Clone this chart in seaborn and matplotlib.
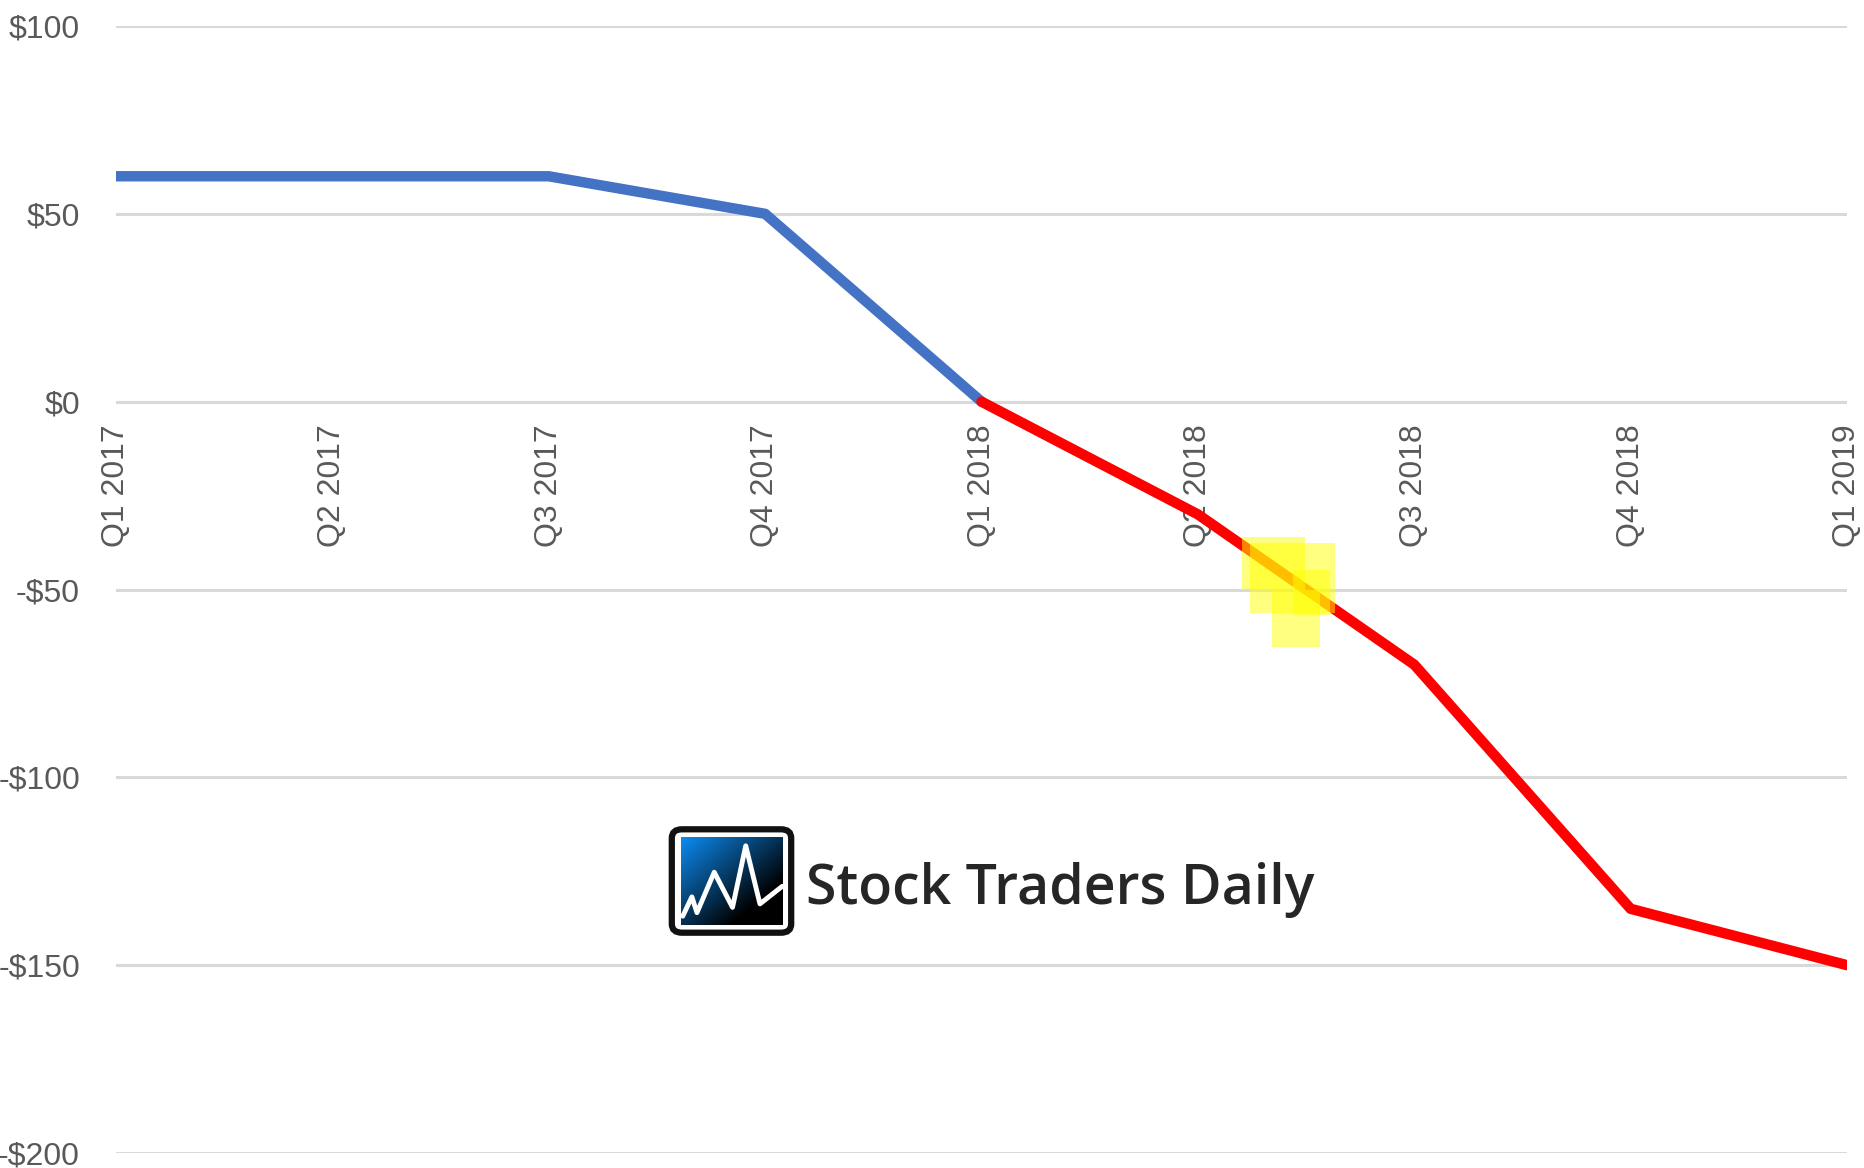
import numpy as np
import pandas as pd
import matplotlib
matplotlib.use("Agg")
import matplotlib.pyplot as plt
import seaborn as sns
from matplotlib.patches import FancyBboxPatch, Rectangle
from matplotlib.ticker import FuncFormatter

# ------ data ------
quarters = ["Q1 2017", "Q2 2017", "Q3 2017", "Q4 2017", "Q1 2018",
            "Q2 2018", "Q3 2018", "Q4 2018", "Q1 2019"]
values = [60, 60, 60, 50, 0, -30, -70, -135, -150]
split_idx = 4  # line turns red from Q1 2018 onward
y_ticks = [100, 50, 0, -50, -100, -150, -200]

W, H = 1864, 1168
sns.set_theme(style="white")
plt.rcParams["font.family"] = ["Liberation Sans", "DejaVu Sans"]

fig = plt.figure(figsize=(W / 100, H / 100), dpi=100)


def px_box(x0, y0, x1, y1):
    """pixel box (top-left origin) -> figure fraction rect"""
    return [x0 / W, 1 - y1 / H, (x1 - x0) / W, (y1 - y0) / H]


ax = fig.add_axes(px_box(116, 26, 1847, 1153))

# ------ build long table: blue segment + red segment ------
idx = list(range(len(quarters)))
df = pd.concat([
    pd.DataFrame({"x": idx[:split_idx + 1], "value": values[:split_idx + 1],
                  "segment": "up"}),
    pd.DataFrame({"x": idx[split_idx:], "value": values[split_idx:],
                  "segment": "down"}),
])

sns.lineplot(data=df, x="x", y="value", hue="segment",
             palette={"up": "#4472C4", "down": "#FF0000"},
             linewidth=7.5, legend=False, ax=ax, zorder=3)

# axis crosses at $0 (set before tick labels: set_position resets ticks)
for s in ax.spines.values():
    s.set_visible(False)
ax.spines["bottom"].set_position(("data", 0))

ax.set_xlim(0, len(quarters) - 1)
ax.set_ylim(min(y_ticks), max(y_ticks))
ax.set_yticks(y_ticks)
ax.yaxis.set_major_formatter(FuncFormatter(
    lambda v, _: f"${int(v)}" if v >= 0 else f"-${int(abs(v))}"))
ax.set_xticks(idx)
ax.set_xticklabels(quarters)
ax.set_xlabel("")
ax.set_ylabel("")

for y in y_ticks:
    ax.axhline(y, color="#D9D9D9", linewidth=2.2, zorder=1)

ax.tick_params(axis="both", length=0, labelsize=23, labelcolor="#595959")
ax.tick_params(axis="y", pad=26)
ax.tick_params(axis="x", pad=16, labelrotation=90)

# ------ yellow highlighter marks ------
for (x0, y0, x1, y1) in [(1242, 537, 1305, 590), (1250, 543, 1335, 613),
                         (1272, 590, 1320, 647), (1293, 570, 1330, 615)]:
    fig.patches.append(Rectangle((x0 / W, 1 - y1 / H), (x1 - x0) / W,
                                 (y1 - y0) / H, transform=fig.transFigure,
                                 facecolor="#FFFF00", alpha=0.5,
                                 edgecolor="none", zorder=5))

# ------ logo ------
lax = fig.add_axes(px_box(668, 826, 795, 936))
lax.set_xlim(0, 1)
lax.set_ylim(0, 1)
lax.axis("off")
lax.add_patch(FancyBboxPatch((0.03, 0.03), 0.94, 0.94,
                             boxstyle="round,pad=0,rounding_size=0.08",
                             facecolor="white", edgecolor="#111111",
                             linewidth=4.5))
gx, gy = np.meshgrid(np.linspace(0, 1, 100), np.linspace(0, 1, 100))
t = np.clip((gx + gy) / 1.5, 0, 1)
blue = np.array([0.05, 0.55, 0.95])
grad = (1 - t)[..., None] * blue[None, None, :]
lax.imshow(grad, extent=(0.1, 0.9, 0.1, 0.9), origin="upper",
           aspect="auto", zorder=2)
zx = np.array([0.02, 0.11, 0.16, 0.33, 0.51, 0.64, 0.78, 1.0])
zy = np.array([0.10, 0.32, 0.14, 0.60, 0.20, 0.90, 0.24, 0.44])
lax.plot(0.1 + zx * 0.8, 0.1 + zy * 0.8, color="white", linewidth=3.5,
         zorder=3)

fig.text(806 / W, 1 - 904 / H, "Stock Traders Daily",
         fontsize=40, color="#262626", fontweight="semibold",
         family=["Open Sans", "DejaVu Sans"], va="baseline", ha="left")

fig.savefig("out.png", dpi=100, facecolor="white")
